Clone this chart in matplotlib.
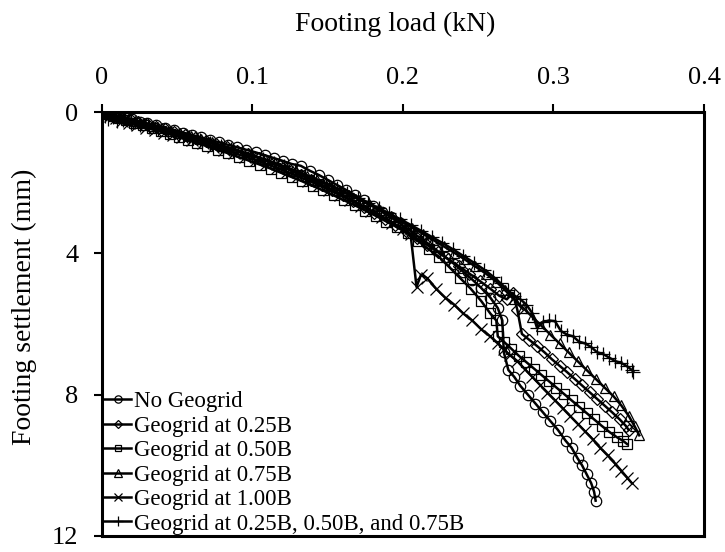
import matplotlib
matplotlib.use("Agg")
import matplotlib.pyplot as plt

plt.rcParams['font.family'] = ['Liberation Serif', 'DejaVu Serif']

# ---------------- data ----------------
no_load = [0,0.002,0.005,0.008,0.012,0.016,0.02,0.025,0.03,0.036,0.042,0.048,0.054,0.06,0.066,0.072,0.078,0.084,0.09,0.096,0.102,0.108,0.114,0.12,0.126,0.132,0.138,0.144,0.15,0.156,0.162,0.168,0.174,0.18,0.186,0.192,0.198,0.204,0.21,0.216,0.222,0.228,0.234,0.24,0.246,0.252,0.258,0.263,0.266,0.267,0.27,0.274,0.278,0.283,0.288,0.293,0.298,0.303,0.308,0.312,0.316,0.319,0.322,0.325,0.327,0.328]
no_set = [0,0.02,0.05,0.09,0.13,0.17,0.21,0.27,0.32,0.38,0.45,0.51,0.58,0.65,0.72,0.79,0.86,0.93,1.0,1.07,1.14,1.22,1.3,1.38,1.47,1.52,1.66,1.78,1.92,2.06,2.2,2.35,2.5,2.66,2.82,2.98,3.15,3.33,3.52,3.7,3.9,4.1,4.3,4.52,4.74,4.98,5.25,5.55,5.9,6.8,7.3,7.5,7.75,8.0,8.25,8.5,8.75,9.0,9.3,9.5,9.8,10.0,10.25,10.5,10.75,11.0]

g025_load = [0,0.003,0.006,0.01,0.014,0.019,0.024,0.03,0.036,0.042,0.048,0.055,0.062,0.069,0.076,0.083,0.09,0.097,0.104,0.111,0.118,0.125,0.132,0.139,0.146,0.153,0.16,0.167,0.174,0.181,0.188,0.195,0.202,0.209,0.216,0.223,0.23,0.237,0.244,0.251,0.258,0.264,0.269,0.273,0.276,0.279,0.284,0.289,0.294,0.299,0.304,0.309,0.314,0.319,0.324,0.329,0.334,0.339,0.344,0.348,0.350]
g025_set = [0,0.04,0.08,0.12,0.17,0.22,0.28,0.35,0.42,0.49,0.56,0.64,0.73,0.82,0.91,1.0,1.1,1.2,1.3,1.42,1.53,1.65,1.78,1.92,2.06,2.2,2.36,2.52,2.68,2.85,3.02,3.2,3.38,3.57,3.76,3.96,4.16,4.36,4.57,4.78,5.0,5.2,5.3,5.12,5.6,6.28,6.45,6.62,6.8,7.0,7.18,7.36,7.55,7.74,7.93,8.12,8.31,8.5,8.7,8.88,9.0]

g050_load = [0,0.003,0.007,0.011,0.016,0.021,0.027,0.033,0.039,0.045,0.051,0.057,0.063,0.07,0.077,0.084,0.091,0.098,0.105,0.112,0.119,0.126,0.133,0.14,0.147,0.154,0.161,0.168,0.175,0.182,0.189,0.196,0.203,0.21,0.217,0.224,0.231,0.238,0.245,0.252,0.258,0.262,0.263,0.267,0.272,0.277,0.282,0.287,0.292,0.297,0.302,0.307,0.312,0.317,0.322,0.327,0.332,0.337,0.342,0.346,0.349]
g050_set = [0,0.05,0.1,0.16,0.23,0.3,0.38,0.46,0.54,0.62,0.7,0.79,0.87,0.97,1.07,1.17,1.28,1.38,1.49,1.6,1.72,1.84,1.96,2.09,2.22,2.36,2.5,2.64,2.79,2.94,3.1,3.26,3.43,3.65,3.88,4.1,4.4,4.7,5.0,5.35,5.7,5.9,6.35,6.5,6.7,6.9,7.08,7.26,7.44,7.62,7.8,7.98,8.16,8.34,8.52,8.7,8.88,9.05,9.2,9.3,9.4]

g075_load = [0,0.004,0.008,0.012,0.017,0.022,0.028,0.034,0.04,0.046,0.052,0.059,0.066,0.073,0.08,0.087,0.094,0.101,0.108,0.115,0.122,0.129,0.136,0.143,0.15,0.157,0.164,0.171,0.178,0.185,0.192,0.199,0.206,0.213,0.22,0.227,0.234,0.241,0.248,0.255,0.262,0.268,0.274,0.28,0.286,0.292,0.298,0.304,0.31,0.316,0.322,0.328,0.334,0.34,0.345,0.35,0.354,0.357]
g075_set = [0,0.04,0.09,0.14,0.19,0.25,0.32,0.39,0.46,0.53,0.6,0.68,0.77,0.86,0.95,1.04,1.14,1.24,1.34,1.45,1.56,1.68,1.8,1.93,2.06,2.2,2.34,2.48,2.63,2.78,2.94,3.1,3.27,3.44,3.62,3.8,3.98,4.17,4.37,4.57,4.8,5.05,5.3,5.55,5.8,6.05,6.3,6.55,6.8,7.05,7.3,7.55,7.8,8.05,8.3,8.6,8.9,9.15]

g100_load = [0,0.002,0.005,0.009,0.013,0.018,0.023,0.029,0.035,0.041,0.047,0.053,0.06,0.067,0.074,0.081,0.088,0.095,0.102,0.109,0.116,0.123,0.13,0.137,0.144,0.151,0.158,0.165,0.172,0.179,0.186,0.193,0.2,0.205,0.209,0.212,0.216,0.222,0.228,0.234,0.24,0.246,0.252,0.258,0.263,0.267,0.271,0.276,0.281,0.286,0.291,0.296,0.301,0.306,0.311,0.316,0.321,0.326,0.331,0.336,0.341,0.345,0.349,0.352]
g100_set = [0,0.06,0.12,0.18,0.24,0.3,0.37,0.44,0.51,0.58,0.65,0.72,0.8,0.89,0.98,1.07,1.16,1.26,1.36,1.47,1.58,1.7,1.82,1.94,2.07,2.21,2.35,2.5,2.65,2.8,2.96,3.13,3.3,3.45,4.95,4.6,4.7,5.0,5.25,5.45,5.7,5.9,6.15,6.35,6.55,6.72,6.88,7.05,7.28,7.5,7.72,7.94,8.16,8.38,8.6,8.82,9.04,9.26,9.5,9.72,9.95,10.15,10.35,10.5]

gmul_load = [0,0.002,0.004,0.007,0.01,0.014,0.019,0.025,0.031,0.037,0.044,0.051,0.058,0.065,0.072,0.079,0.086,0.093,0.1,0.107,0.114,0.121,0.128,0.135,0.142,0.149,0.156,0.163,0.17,0.177,0.184,0.191,0.198,0.205,0.212,0.219,0.226,0.233,0.24,0.247,0.254,0.26,0.265,0.27,0.274,0.278,0.282,0.286,0.289,0.293,0.297,0.301,0.305,0.309,0.313,0.317,0.321,0.325,0.329,0.333,0.337,0.341,0.345,0.349,0.352,0.353]
gmul_set = [0,0.1,0.2,0.15,0.25,0.22,0.3,0.36,0.42,0.49,0.56,0.64,0.72,0.8,0.88,0.96,1.05,1.14,1.23,1.33,1.43,1.54,1.65,1.77,1.89,2.02,2.15,2.29,2.43,2.57,2.72,2.87,3.03,3.19,3.36,3.53,3.7,3.88,4.07,4.26,4.46,4.66,4.85,5.05,5.2,5.3,5.45,5.7,6.1,5.95,5.9,5.92,6.2,6.3,6.35,6.5,6.55,6.65,6.8,6.85,6.95,7.05,7.1,7.2,7.3,7.35]

labels = ["No Geogrid", "Geogrid at 0.25B", "Geogrid at 0.50B",
          "Geogrid at 0.75B", "Geogrid at 1.00B",
          "Geogrid at 0.25B, 0.50B, and 0.75B"]
x_ticks = [0, 0.1, 0.2, 0.3, 0.4]
x_ticklabels = ["0", "0.1", "0.2", "0.3", "0.4"]
y_ticks = [0, 4, 8, 12]

series = [
    (no_load, no_set, 'o', 7.5),
    (g025_load, g025_set, 'D', 6),
    (g050_load, g050_set, 's', 7),
    (g075_load, g075_set, '^', 7.5),
    (g100_load, g100_set, 'x', 8),
    (gmul_load, gmul_set, '+', 10),
]

# ---------------- figure ----------------
fig = plt.figure(figsize=(7.25, 5.52), dpi=100)
ax = fig.add_axes([0.1407, 0.029, 0.8303, 0.768])

for (xs, ys, mk, ms), lab in zip(series, labels):
    ax.plot(xs, ys, color='black', linewidth=1.8, marker=mk, markersize=ms,
            markerfacecolor='none', markeredgecolor='black', markeredgewidth=0.9,
            label=lab)

ax.set_xlim(0, 0.4)
ax.set_ylim(12, 0)
ax.xaxis.tick_top()
ax.xaxis.set_label_position('top')
ax.set_xticks(x_ticks)
ax.set_xticklabels(x_ticklabels)
ax.set_yticks(y_ticks)
ax.tick_params(axis='both', direction='out', length=5.5, width=1.5,
               labelsize=19)
ax.tick_params(axis='x', pad=11)
ax.tick_params(axis='y', pad=11.5)
for sp in ax.spines.values():
    sp.set_linewidth(2.2)

ax.set_xlabel("Footing load (kN)", fontsize=20)
ax.set_ylabel("Footing settlement (mm)", fontsize=20)
ax.xaxis.set_label_coords(0.487, 1.191)
ax.yaxis.set_label_coords(-0.108, 0.54)

leg = ax.legend(loc='lower left', bbox_to_anchor=(0.003, 0.0035),
                frameon=False, fontsize=16.5,
                handlelength=1.2, handletextpad=0.1, labelspacing=0.15,
                borderaxespad=0, borderpad=0, markerscale=0.7)

fig.savefig("out.png", dpi=100)
